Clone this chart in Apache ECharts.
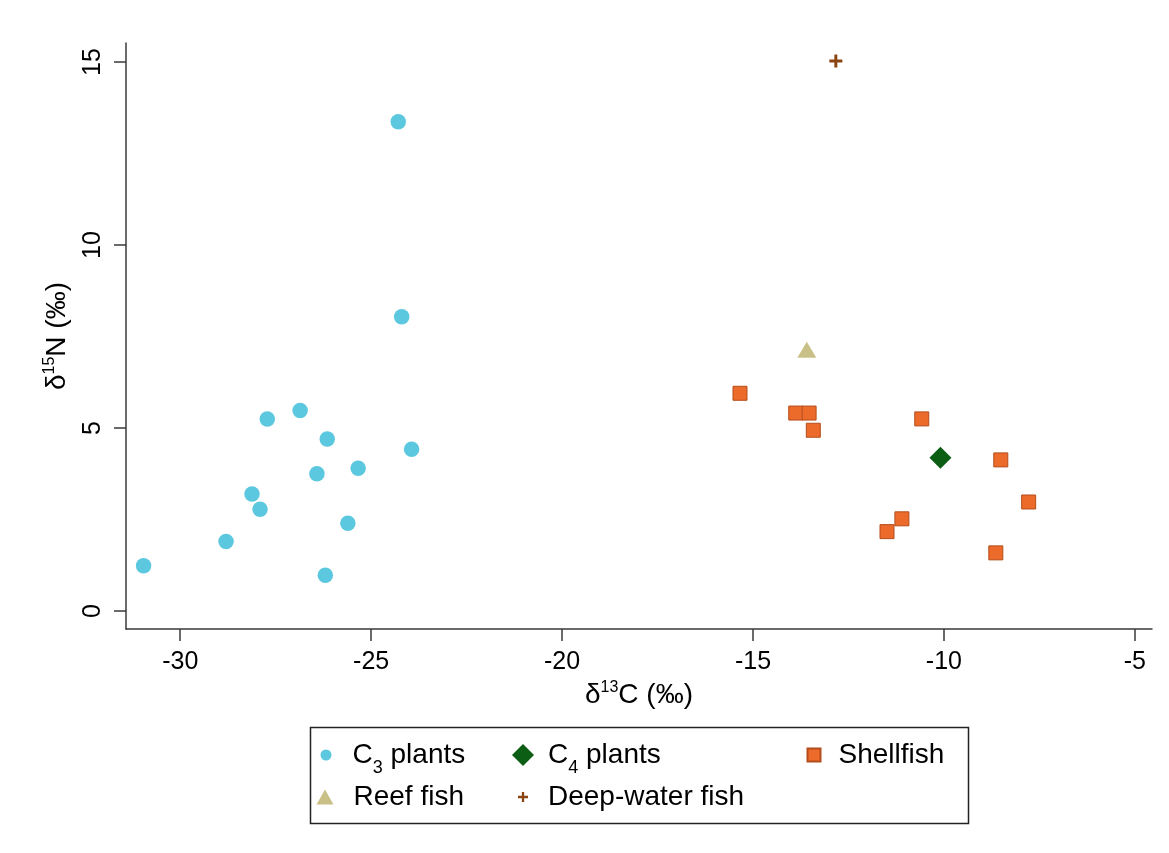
<!DOCTYPE html>
<html><head><meta charset="utf-8">
<script src="https://cdn.jsdelivr.net/npm/echarts@6/dist/echarts.min.js"></script>
<style>html,body{margin:0;padding:0;background:#fff}#c{width:1169px;height:853px}</style>
</head><body><div id="c"></div>
<script>
// ---- data (δ13C, δ15N) ----
const c3Plants = [[-30.96,1.24],[-28.80,1.90],[-28.12,3.20],[-27.91,2.78],[-27.72,5.25],[-26.86,5.48],[-26.15,4.70],[-26.42,3.75],[-25.34,3.90],[-23.94,4.42],[-25.61,2.40],[-26.20,0.98],[-24.29,13.37],[-24.20,8.04]];
const c4Plants = [[-10.09,4.19]];
const shellfish = [[-15.34,5.95],[-13.88,5.41],[-13.53,5.41],[-13.42,4.94],[-10.58,5.25],[-8.51,4.13],[-7.78,2.98],[-11.10,2.52],[-11.49,2.17],[-8.64,1.59]];
const reefFish = [[-13.59,7.14]];
const deepWaterFish = [[-12.83,15.03]];
const xTicks = [-30,-25,-20,-15,-10,-5];
const yTicks = [0,5,10,15];
const seriesNames = ['C3 plants','C4 plants','Shellfish','Reef fish','Deep-water fish'];

const FONT = "'Liberation Sans', Arial, Helvetica, sans-serif";
const PLUS = 'path://M5,0H8V5H13V8H8V13H5V8H0V5H5Z';
const richLegend = {
  n: {fontSize: 28, lineHeight: 30, verticalAlign: 'middle', fontFamily: FONT, color: '#000'},
  sub: {fontSize: 18, lineHeight: 44, verticalAlign: 'bottom', fontFamily: FONT, color: '#000'},
  g16: {width: 16, fontSize: 28, lineHeight: 30, verticalAlign: 'middle'},
  g9: {width: 9, fontSize: 28, lineHeight: 30, verticalAlign: 'middle'},
  g13: {width: 13, fontSize: 28, lineHeight: 30, verticalAlign: 'middle'},
  g15: {width: 15, fontSize: 28, lineHeight: 30, verticalAlign: 'middle'}
};
function legendLabel(name, gap) {
  const m = name.match(/^C(\d) (.*)$/);
  if (m) return '{' + gap + '| }{n|C}{sub|' + m[1] + '}{n| ' + m[2] + '}';
  return '{' + gap + '| }{n|' + name + '}';
}
function mkLegend(name, left, top, w, h, gap) {
  return {
    data: [name], left: left, top: top, padding: 0, itemWidth: w, itemHeight: h,
    selectedMode: false, orient: 'horizontal',
    formatter: (nm) => legendLabel(nm, gap),
    textStyle: {fontFamily: FONT, fontSize: 28, color: '#000', rich: richLegend}
  };
}

const axisRich = {
  n: {fontSize: 28, lineHeight: 31, fontFamily: FONT, color: '#000'},
  sup: {fontSize: 16, lineHeight: 16, verticalAlign: 'top', fontFamily: FONT, color: '#000'}
};

const chart = echarts.init(document.getElementById('c'), null, {renderer: 'canvas'});
chart.setOption({
  backgroundColor: '#fff',
  animation: false,
  grid: {left: 126, right: 17, top: 43, bottom: 224, containLabel: false, outerBoundsMode: 'none'},
  xAxis: {
    type: 'value', min: -31.42, max: -4.55,
    name: '{n|δ}{sup|13}{n|C (‰)}', nameLocation: 'middle', nameGap: 50,
    nameTextStyle: {fontFamily: FONT, fontSize: 28, color: '#000', rich: axisRich},
    axisLine: {show: true, onZero: false, lineStyle: {color: '#3a3a3a', width: 1.5}},
    axisTick: {show: true, length: 12, customValues: xTicks, lineStyle: {color: '#3a3a3a', width: 1.5}},
    axisLabel: {customValues: xTicks, margin: 21, fontFamily: FONT, fontSize: 25, color: '#000'},
    splitLine: {show: false}
  },
  yAxis: {
    type: 'value', min: -0.49, max: 15.52,
    name: '{n|δ}{sup|15}{n|N (‰)}', nameLocation: 'middle', nameGap: 53,
    nameTextStyle: {fontFamily: FONT, fontSize: 28, color: '#000', rich: axisRich},
    axisLine: {show: true, onZero: false, lineStyle: {color: '#3a3a3a', width: 1.5}},
    axisTick: {show: true, length: 12, customValues: yTicks, lineStyle: {color: '#3a3a3a', width: 1.5}},
    axisLabel: {customValues: yTicks, rotate: 90, margin: 20, fontFamily: FONT, fontSize: 25, color: '#000'},
    splitLine: {show: false}
  },
  legend: [
    mkLegend('C3 plants', 320.5, 741, 11, 11, 'g16'),
    mkLegend('C4 plants', 512, 741, 22, 22, 'g9'),
    mkLegend('Shellfish', 806.5, 741, 13, 13, 'g13'),
    mkLegend('Reef fish', 316.5, 783, 17, 15, 'g15'),
    mkLegend('Deep-water fish', 518, 783, 10, 10, 'g15')
  ],
  graphic: [{
    type: 'rect', left: 308, top: 725, silent: true,
    shape: {width: 658, height: 96},
    style: {fill: 'none', stroke: '#222', lineWidth: 1.5}
  }],
  series: [
    {name: seriesNames[0], type: 'scatter', data: c3Plants, symbol: 'circle', symbolSize: 15.5,
     itemStyle: {color: '#5BC8DF', opacity: 1}},
    {name: seriesNames[1], type: 'scatter', data: c4Plants, symbol: 'diamond', symbolSize: 22,
     itemStyle: {color: '#0B5E13', opacity: 1}},
    {name: seriesNames[2], type: 'scatter', data: shellfish, symbol: 'rect', symbolSize: 14,
     itemStyle: {color: '#EC6B2B', borderColor: '#B44D1C', borderWidth: 1, opacity: 1}},
    {name: seriesNames[3], type: 'scatter', data: reefFish, symbol: 'triangle', symbolSize: [19, 16],
     itemStyle: {color: '#C9C087', opacity: 1}},
    {name: seriesNames[4], type: 'scatter', data: deepWaterFish, symbol: PLUS, symbolSize: 13,
     itemStyle: {color: '#8B4513', opacity: 1}}
  ]
});
</script>
</body></html>
